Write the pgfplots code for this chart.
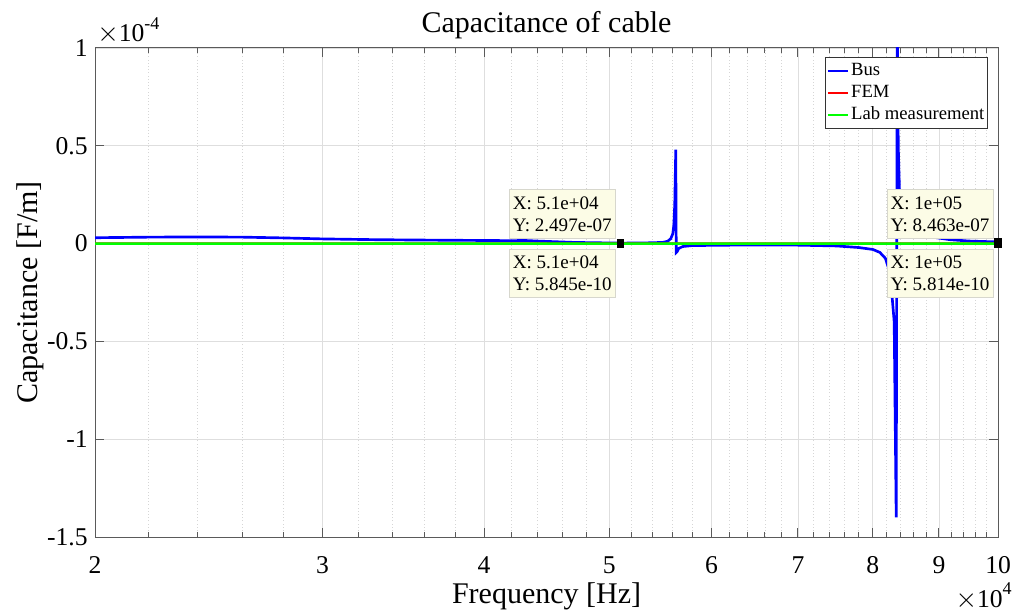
\documentclass[border=0pt]{standalone}
\usepackage{fontspec}
\setmainfont{Liberation Serif}
\usepackage{pgfplots}
\pgfplotsset{compat=1.18}
\definecolor{tipfill}{RGB}{252,252,230}
\definecolor{tipedge}{RGB}{215,215,205}
\definecolor{axcol}{RGB}{90,90,90}
\tikzset{tip/.style={draw=tipedge, fill=tipfill, align=left, inner xsep=2.5pt, inner ysep=5.2pt,
  font=\fontsize{14.3}{16.5}\selectfont}}
\begin{document}
\begin{tikzpicture}
\begin{axis}[
  scale only axis,
  width=677.25pt, height=366.75pt,
  xmode=log,
  xmin=20000, xmax=100000,
  ymin=-1.5e-4, ymax=1e-4,
  xtick={20000,30000,40000,50000,60000,70000,80000,90000,100000},
  xticklabels={2,3,4,5,6,7,8,9,10},
  minor xtick={22000,24000,26000,28000,32000,34000,36000,38000,42000,44000,46000,48000,52000,54000,56000,58000,62000,64000,66000,68000,72000,74000,76000,78000,82000,84000,86000,88000,92000,94000,96000,98000},
  ytick={-1.5e-4,-1e-4,-0.5e-4,0,0.5e-4,1e-4},
  yticklabels={-1.5,-1,-0.5,0,0.5,1},
  scaled y ticks=false,
  grid=both,
  major grid style={draw=black!13, line width=0.6pt},
  minor grid style={draw=black!16, dotted, line width=0.6pt},
  axis line style={draw=axcol, line width=0.75pt},
  tick style={draw=axcol, line width=0.75pt},
  major tick length=6.75pt,
  minor tick length=3.4pt,
  tick align=inside,
  xticklabel style={font=\fontsize{19.2}{20}\selectfont, yshift=-11pt},
  yticklabel style={font=\fontsize{19.2}{20}\selectfont, xshift=-2pt},
  title={Capacitance of cable},
  every axis title/.style={at={(axis description cs:0.5,1.0327)}, anchor=base, font=\fontsize{22.5}{24}\selectfont},
  xlabel={Frequency [Hz]},
  xlabel style={at={(axis description cs:0.5,-0.135)}, anchor=base, font=\fontsize{22.5}{24}\selectfont},
  ylabel={Capacitance [F/m]},
  ylabel style={at={(axis description cs:-0.0642,0.5)}, anchor=base, font=\fontsize{22.5}{24}\selectfont},
  legend style={at={(axis description cs:0.989,0.9816)}, anchor=north east, draw=black!80, fill=white, line width=0.6pt,
    font=\fontsize{14}{16}\selectfont, inner xsep=1pt, inner ysep=2pt,
    nodes={inner sep=1.5pt, text height=10pt, text depth=3.5pt}},
  legend cell align=left,
  legend image code/.code={\draw[#1] (0pt,0pt) -- (15pt,0pt);},
]
\addplot[blue, line width=2pt] coordinates {
(20000,3.0e-6) (22000,3.3e-6) (24000,3.4e-6) (26000,3.3e-6) (28000,2.9e-6)
(30000,2.4e-6) (33000,2.0e-6) (36000,1.8e-6) (40000,1.6e-6) (42000,1.5e-6)
(43000,1.6e-6) (44000,1.3e-6) (47000,6e-7) (51000,2.497e-7) (53000,3e-7)
(55000,6e-7) (55500,1.2e-6) (55800,2.5e-6) (56000,5e-6) (56100,9e-6)
(56200,2e-5) (56300,4.8e-5) (56350,-4.5e-6) (56450,-4e-6) (56600,-2.5e-6)
(57000,-1.5e-6) (58000,-1e-6) (62000,-8e-7) (70000,-8e-7) (75000,-1.2e-6)
(78000,-2e-6) (80000,-3e-6) (81000,-4.5e-6) (81800,-7.5e-6) (82500,-1.5e-5)
(83100,-4e-5) (83400,-1.4e-4) (83550,1.2e-4) (83700,5e-5) (83900,2.5e-5)
(84300,1.5e-5) (85000,1e-5) (86000,7e-6) (87500,4e-6) (91800,2e-6)
(95000,1.3e-6) (100000,8.463e-7)
};
\addlegendentry{Bus}
\addplot[red, line width=2pt] coordinates {(20000,5.9e-10) (51000,5.85e-10) (100000,5.8e-10)};
\addlegendentry{FEM}
\addplot[green, line width=2pt] coordinates {(20000,6e-10) (51000,5.845e-10) (100000,5.814e-10)};
\addlegendentry{Lab measurement}
\addplot[only marks, mark=square*, mark size=2.6pt, black, forget plot] coordinates {
(51000,2.497e-7) (51000,5.845e-10) (100000,8.463e-7) (100000,5.814e-10)};
\node[tip, anchor=south east] at ([xshift=-3.75pt,yshift=3.75pt]axis cs:51000,0) {X: 5.1e+04\\Y: 2.497e-07};
\node[tip, anchor=north east] at ([xshift=-3.75pt,yshift=-3.75pt]axis cs:51000,0) {X: 5.1e+04\\Y: 5.845e-10};
\node[tip, anchor=south east] at ([xshift=-3.75pt,yshift=3.75pt]axis cs:100000,0) {X: 1e+05\\Y: 8.463e-07};
\node[tip, anchor=north east] at ([xshift=-3.75pt,yshift=-3.75pt]axis cs:100000,0) {X: 1e+05\\Y: 5.814e-10};
\coordinate (BL) at (rel axis cs:0,0);
\coordinate (TR) at (rel axis cs:1,1);
\end{axis}
\path (BL |- TR) ++(1.5pt,4.5pt) node[anchor=base west, inner sep=0pt, font=\fontsize{19.2}{20}\selectfont]
  {$\times$10\raisebox{0.5em}{\fontsize{13.5}{14}\selectfont -4}};
\path (TR |- BL) ++(10.5pt,-52.5pt) node[anchor=base east, inner sep=0pt, font=\fontsize{19.2}{20}\selectfont]
  {$\times$10\raisebox{0.5em}{\fontsize{13.5}{14}\selectfont 4}};
\path (BL) ++(-71.25pt,-57.75pt) coordinate (BBA);
\path (TR) ++(12.75pt,36pt) coordinate (BBB);
\pgfresetboundingbox
\path (BBA) rectangle (BBB);
\end{tikzpicture}
\end{document}
